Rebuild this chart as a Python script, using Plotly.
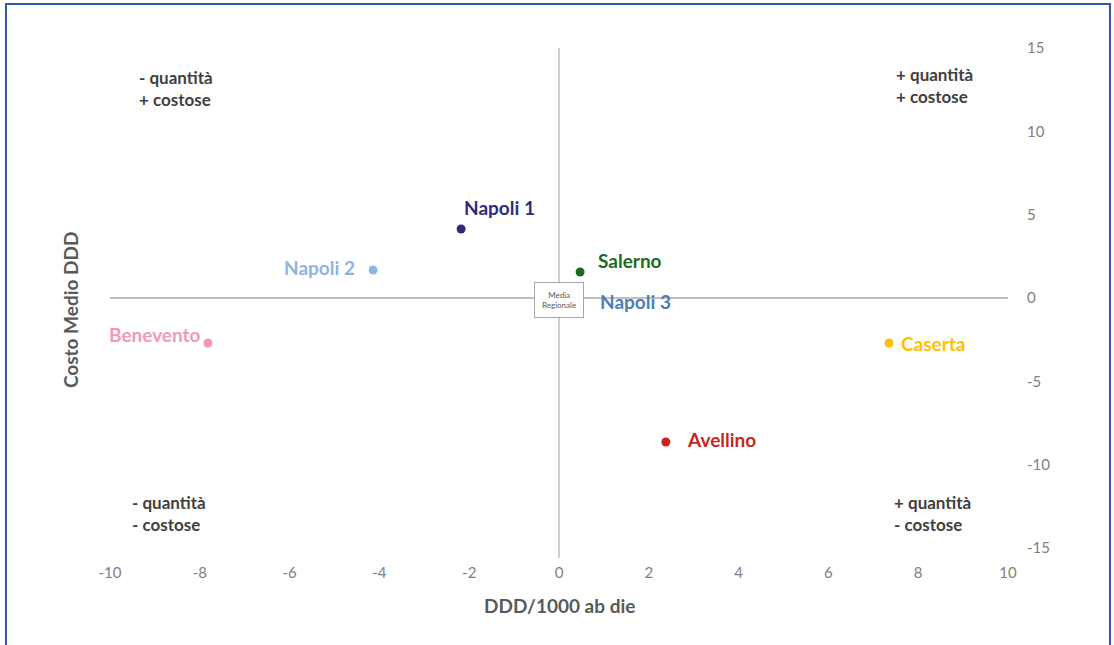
import plotly.graph_objects as go

# Data
names = ["Napoli 1", "Napoli 2", "Salerno", "Napoli 3", "Benevento", "Caserta", "Avellino"]
ddd = [-2.18, -4.14, 0.47, 0.05, -7.82, 7.35, 2.38]
costo = [4.14, 1.68, 1.56, -0.1, -2.7, -2.7, -8.64]
colors = ["#2E2B7F", "#8EB4E3", "#1D6B22", "#4A7EBB", "#F09AB6", "#FFC000", "#C8261D"]
# label placement (anchor, xshift, yshift) in pixels
label_pos = [("left", 1, 22), ("right", -16, 3), ("left", 16, 12), ("left", 37, -2),
             ("right", -5, 9), ("left", 10, 0), ("left", 19, 3)]

x_ticks = [-10, -8, -6, -4, -2, 0, 2, 4, 6, 8, 10]
x_tick_text = ["-10", "-8", "-6", "-4", "-2", "0", "2", "4", "6", "8", "10"]
y_ticks = [-15, -10, -5, 0, 5, 10, 15]
y_tick_text = ["-15", "-10", "-5", "0", "5", "10", "15"]

quadrants = [
    (-9.4, 12.55, "- quantità<br>+ costose"),
    (7.45, 12.75, "+ quantità<br>+ costose"),
    (-9.55, -12.95, "- quantità<br>- costose"),
    (7.42, -12.95, "+ quantità<br>- costose"),
]

FONT = "Lato, 'Open Sans', sans-serif"

fig = go.Figure()
fig.add_trace(go.Scatter(
    x=ddd, y=costo, mode="markers",
    marker=dict(size=9, color=colors),
    hoverinfo="text", text=names, showlegend=False,
))

annotations = []
for n, xv, yv, c, (anc, xs, ys) in zip(names, ddd, costo, colors, label_pos):
    annotations.append(dict(
        x=xv, y=yv, xref="x", yref="y", text="<b>%s</b>" % n, showarrow=False,
        xanchor=anc, yanchor="middle", xshift=xs, yshift=ys,
        font=dict(family=FONT, size=19, color=c),
    ))

for qx, qy, qt in quadrants:
    annotations.append(dict(
        x=qx, y=qy, xref="x", yref="y", text="<b>%s</b>" % qt, showarrow=False,
        xanchor="left", yanchor="middle", align="left",
        font=dict(family=FONT, size=17, color="#404040"),
    ))

# Media Regionale box
annotations.append(dict(
    x=0, y=0, xref="x", yref="y", text="Media<br>Regionale", showarrow=False,
    xanchor="center", yanchor="middle", yshift=-2,
    font=dict(family=FONT, size=8, color="#595959"),
    bgcolor="white", bordercolor="#A6A6A6", borderwidth=1, borderpad=7,
))

# Axis titles
annotations.append(dict(
    x=-0.0445, y=0.476, xref="paper", yref="paper", text="<b>Costo Medio DDD</b>",
    showarrow=False, textangle=-90, xanchor="center", yanchor="middle",
    font=dict(family=FONT, size=19, color="#595959"),
))
annotations.append(dict(
    x=0.5, y=-0.114, xref="paper", yref="paper", text="<b>DDD/1000 ab die</b>",
    showarrow=False, xanchor="center", yanchor="middle",
    font=dict(family=FONT, size=19, color="#595959"),
))

shapes = [
    # outer blue frame (open at the bottom)
    dict(type="path", xref="paper", yref="paper",
         path="M -0.1158,-0.2 L -0.1158,1.088 L 1.1136,1.088 L 1.1136,-0.2",
         line=dict(color="#2F57A8", width=2)),
    # vertical axis line through x=0, slightly extended below
    dict(type="line", xref="x", yref="paper", x0=0, x1=0, y0=-0.02, y1=1.0,
         line=dict(color="#BFBFBF", width=1.5), layer="below"),
]

fig.update_layout(
    width=1114, height=645,
    margin=dict(l=110, r=106, t=48, b=97),
    paper_bgcolor="white", plot_bgcolor="white",
    font=dict(family=FONT),
    annotations=annotations, shapes=shapes,
    xaxis=dict(range=[-10, 10], tickvals=x_ticks, ticktext=x_tick_text,
               showgrid=False, zeroline=False,
               showline=False, ticks="", ticklabelstandoff=14,
               tickfont=dict(family=FONT, size=15, color="#808080")),
    yaxis=dict(range=[-15, 15], tickvals=y_ticks, ticktext=y_tick_text,
               side="right", showgrid=False,
               zeroline=True, zerolinecolor="#BFBFBF", zerolinewidth=1.5,
               showline=False, ticks="", ticklabelstandoff=18,
               tickfont=dict(family=FONT, size=15, color="#808080")),
)

fig.write_html("out.html", config={"displayModeBar": False},
               post_script="document.body.style.margin='0';document.body.style.overflow='hidden';")
